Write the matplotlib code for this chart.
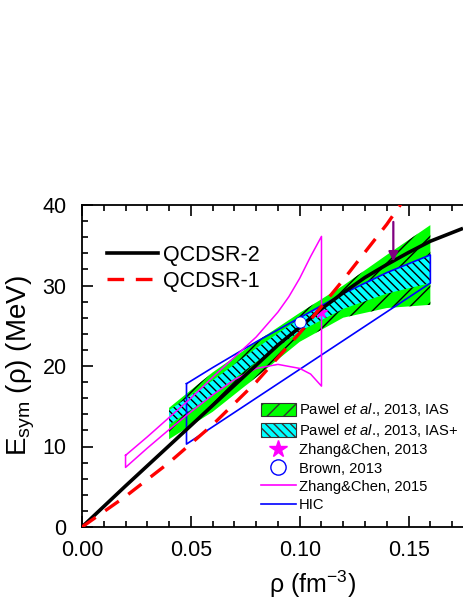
import matplotlib
matplotlib.use('Agg')
import matplotlib.pyplot as plt
from matplotlib.patches import Patch
from matplotlib.lines import Line2D
from matplotlib.ticker import MultipleLocator

plt.rcParams['font.family'] = ['Liberation Sans', 'DejaVu Sans']
plt.rcParams['mathtext.fontset'] = 'custom'
plt.rcParams['mathtext.rm'] = 'Liberation Sans'
plt.rcParams['mathtext.it'] = 'Liberation Sans:italic'
plt.rcParams['hatch.linewidth'] = 1.0

# ---------------- data ----------------
# QCDSR-2 (solid black)
rho_q2 = [0.0, 0.02, 0.04, 0.06, 0.08, 0.09, 0.10, 0.11, 0.12, 0.13, 0.14, 0.15, 0.16, 0.175]
E_q2 = [0.0, 5.1, 10.1, 15.1, 20.1, 22.6, 24.8, 27.1, 29.1, 31.0, 32.6, 34.1, 35.5, 37.1]

# QCDSR-1 (red dashed)
rho_q1 = [0.0, 0.02, 0.04, 0.06, 0.08, 0.10, 0.12, 0.14, 0.15]
E_q1 = [0.0, 3.8, 8.0, 12.7, 18.0, 24.1, 30.7, 37.6, 41.5]

# Pawel et al. 2013, IAS (green band)
rho_ias = [0.04, 0.06, 0.08, 0.10, 0.12, 0.14, 0.16]
E_ias_low = [10.9, 14.3, 18.6, 23.0, 26.0, 27.2, 27.6]
E_ias_up = [14.8, 19.2, 23.0, 26.6, 30.0, 33.8, 37.5]

# Pawel et al. 2013, IAS+ (cyan band)
rho_iasp = [0.04, 0.06, 0.08, 0.10, 0.12, 0.14, 0.16]
E_iasp_low = [12.7, 16.4, 20.5, 24.3, 27.1, 29.0, 30.3]
E_iasp_up = [14.5, 18.2, 22.2, 25.9, 29.0, 31.6, 33.8]

# Zhang & Chen 2015 (magenta closed contour)
rho_zc15 = [0.02, 0.03, 0.04, 0.05, 0.06, 0.07, 0.08, 0.09, 0.095, 0.10, 0.105, 0.11,
            0.11, 0.105, 0.10, 0.09, 0.08, 0.07, 0.06, 0.05, 0.04, 0.03, 0.02, 0.02]
E_zc15 = [8.9, 11.2, 13.6, 16.0, 18.6, 21.1, 23.6, 26.7, 28.6, 30.9, 33.6, 36.1,
          17.5, 19.0, 19.7, 20.2, 19.7, 18.3, 16.4, 14.3, 12.1, 9.8, 7.4, 8.9]

# HIC (blue closed contour)
rho_hic = [0.048, 0.06, 0.08, 0.10, 0.12, 0.14, 0.16, 0.16, 0.048, 0.048]
E_hic = [17.8, 19.8, 23.0, 26.0, 29.0, 31.6, 33.8, 30.3, 10.3, 17.8]

# single points
rho_zc13, E_zc13 = [0.11], [26.65]
rho_brown, E_brown = [0.10], [25.5]

# arrow
rho_arrow = 0.143
E_arrow = [37.9, 33.0]

xticks = [0.0, 0.05, 0.10, 0.15]
xticklabels = ['0.00', '0.05', '0.10', '0.15']
yticks = [0, 10, 20, 30, 40]

# ---------------- figure ----------------
fig = plt.figure(figsize=(4.63, 5.99), dpi=100)
ax = fig.add_axes([82 / 463, 1 - 527 / 599, 381 / 463, 322 / 599])

GREEN = '#00ff00'
CYAN = '#00ffff'
MAG = '#ff00ff'
BLUE = '#0000ff'

ax.fill_between(rho_ias, E_ias_low, E_ias_up, facecolor=GREEN, edgecolor='k',
                hatch='//', linewidth=0, zorder=1)
ax.fill_between(rho_iasp, E_iasp_low, E_iasp_up, facecolor=CYAN, edgecolor='k',
                hatch='\\\\\\\\', linewidth=0, zorder=2)
ax.plot(rho_hic, E_hic, color=BLUE, lw=1.2, zorder=3)
ax.plot(rho_zc15, E_zc15, color=MAG, lw=1.1, zorder=3)
ax.plot(rho_zc13, E_zc13, marker='*', color=MAG, ms=9, ls='None', zorder=3)
ax.plot(rho_q2, E_q2, color='k', lw=2.6, zorder=4, solid_capstyle='butt')
ax.plot(rho_q1, E_q1, color='#ff0000', lw=2.4, ls=(0, (5, 3.5)), zorder=5)
ax.plot(rho_brown, E_brown, marker='o', mfc='white', mec=BLUE, mew=0.6, ms=8,
        ls='None', zorder=6)
ax.annotate('', xy=(rho_arrow, E_arrow[1]), xytext=(rho_arrow, E_arrow[0]),
            arrowprops=dict(arrowstyle='-|>', color='#800080', lw=1.6,
                            mutation_scale=14, shrinkA=0, shrinkB=0), zorder=7)

ax.set_xlim(0, 0.175)
ax.set_ylim(0, 40)
ax.set_xticks(xticks)
ax.set_xticklabels(xticklabels)
ax.set_yticks(yticks)
ax.xaxis.set_minor_locator(MultipleLocator(0.01))
ax.yaxis.set_minor_locator(MultipleLocator(2))
ax.tick_params(which='both', direction='in', top=True, right=False, width=1.2)
ax.tick_params(which='major', length=8, labelsize=15.5)
ax.tick_params(axis='x', which='major', pad=9)
ax.tick_params(axis='y', which='major', pad=11)
ax.tick_params(which='minor', length=4)
for s in ['left', 'bottom', 'top']:
    ax.spines[s].set_linewidth(1.3)
ax.spines['right'].set_visible(False)

ax.set_ylabel(r'E$_{\rm sym}$ (ρ) (MeV)', fontsize=20)
ax.yaxis.set_label_coords(-0.118, 0.5)
ax.set_xlabel(r'ρ (fm$^{-3}$)', fontsize=18)
ax.xaxis.set_label_coords(0.606, -0.13)

# upper-left legend
h1 = [Line2D([], [], color='k', lw=2.6),
      Line2D([], [], color='#ff0000', lw=2.4, ls=(0, (5, 3.5)))]
leg1 = ax.legend(h1, ['QCDSR-2', 'QCDSR-1'], loc='upper left',
                 bbox_to_anchor=(0.066, 0.877), frameon=False, fontsize=15.5,
                 handlelength=2.35, handletextpad=0.25, labelspacing=0.25,
                 borderpad=0, borderaxespad=0)
ax.add_artist(leg1)

# lower-right legend
h2 = [Patch(facecolor=GREEN, edgecolor='#333333', hatch='//', lw=0.8),
      Patch(facecolor=CYAN, edgecolor='#333333', hatch='\\\\\\\\', lw=0.8),
      Line2D([], [], marker='*', color=MAG, ms=13, ls='None'),
      Line2D([], [], marker='o', mfc='white', mec=BLUE, ms=11, mew=1.0, ls='None'),
      Line2D([], [], color=MAG, lw=1.2),
      Line2D([], [], color=BLUE, lw=1.2)]
l2 = [r'Pawel $\it{et}$ $\it{al}$., 2013, IAS',
      r'Pawel $\it{et}$ $\it{al}$., 2013, IAS+',
      'Zhang&Chen, 2013',
      'Brown, 2013',
      'Zhang&Chen, 2015',
      'HIC']
ax.legend(h2, l2, loc='upper left', bbox_to_anchor=(0.47, 0.39), frameon=False,
          fontsize=10.6, handlelength=2.35, handleheight=1.0, handletextpad=0.2,
          labelspacing=0.25, borderpad=0, borderaxespad=0)

fig.savefig('out.png', dpi=100)
